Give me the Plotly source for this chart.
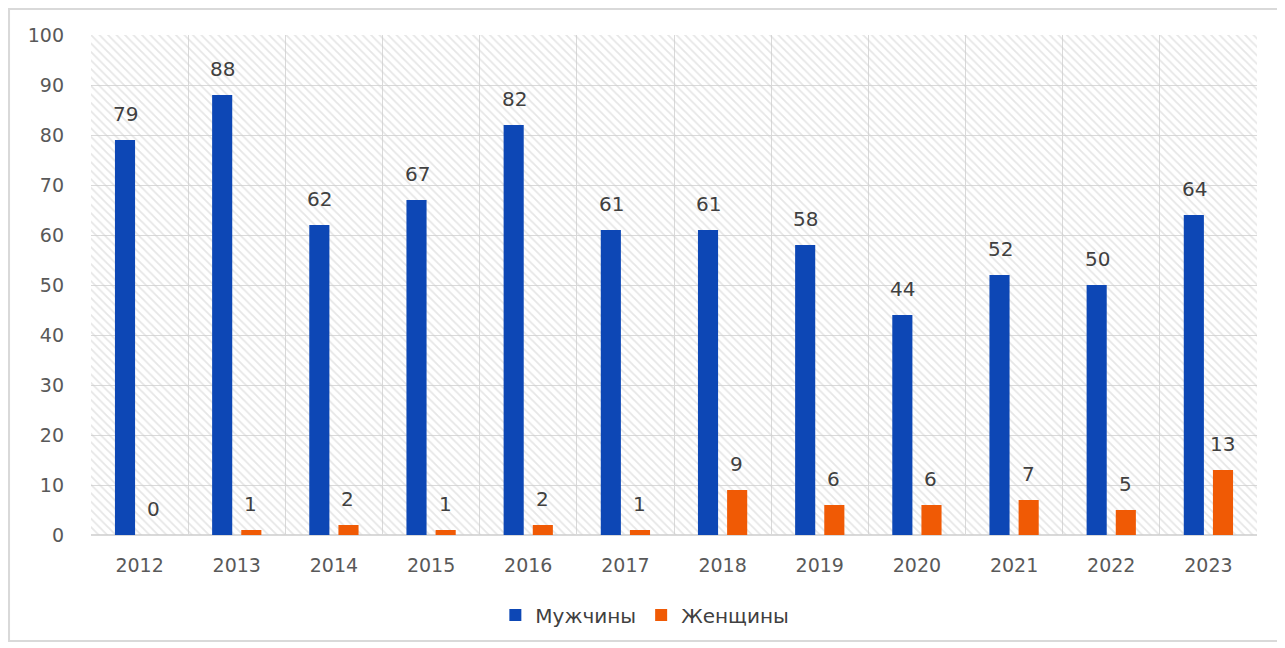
import plotly.graph_objects as go

years = ["2012", "2013", "2014", "2015", "2016", "2017", "2018", "2019", "2020", "2021", "2022", "2023"]
men = [79, 88, 62, 67, 82, 61, 61, 58, 44, 52, 50, 64]
women = [0, 1, 2, 1, 2, 1, 9, 6, 6, 7, 5, 13]
series_names = ["Мужчины", "Женщины"]
colors = ["#0d47b5", "#f05a05"]
y_ticks = list(range(0, 101, 10))

FONT = "DejaVu Sans"
TXT = "#404040"

fig = go.Figure()

# hatched plot-area background (decoration on a hidden unit axis)
fig.add_trace(go.Scatter(
    x=[0, 1, 1, 0, 0], y=[0, 0, y_ticks[-1], y_ticks[-1], 0], xaxis="x", yaxis="y",
    mode="none", fill="toself", fillcolor="rgba(0,0,0,0)",
    fillpattern=dict(shape="\\", fgcolor="#cdcdcd", bgcolor="rgba(0,0,0,0)", size=6, solidity=0.3),
    showlegend=False, hoverinfo="skip"))

for name, vals, col in zip(series_names, [men, women], colors):
    fig.add_trace(go.Bar(x=years, y=vals, name=name, xaxis="x2", yaxis="y",
                         marker=dict(color=col, line=dict(width=0))))

annotations = []
for vals, shift in [(men, -14), (women, 14)]:
    for i, v in enumerate(vals):
        annotations.append(dict(x=i, y=v, xref="x2", yref="y", text=str(v), showarrow=False,
                                xshift=shift, yshift=26, font=dict(family=FONT, size=20, color=TXT)))

fig.update_layout(
    width=1285, height=648,
    margin=dict(l=83, r=36, t=27, b=121),
    paper_bgcolor="white", plot_bgcolor="white",
    barmode="group", bargap=0.40, bargroupgap=0.31,
    font=dict(family=FONT, size=19, color=TXT),
    xaxis=dict(range=[0, 1], visible=False, fixedrange=True),
    xaxis2=dict(type="category", overlaying="x", anchor="y", side="bottom",
                range=[-0.5, len(years) - 0.5], categoryorder="array", categoryarray=years,
                tickson="boundaries", showgrid=True, gridcolor="#d9d9d9", gridwidth=1,
                ticks="", ticklabelstandoff=17, tickfont=dict(size=19, color="#595959"),
                showline=False, zeroline=False),
    yaxis=dict(range=[0, 100], tickvals=y_ticks, showgrid=True, gridcolor="#d9d9d9", gridwidth=1,
               zeroline=True, zerolinecolor="#d9d9d9", ticks="", ticklabelstandoff=26,
               tickfont=dict(size=19, color="#595959")),
    legend=dict(orientation="h", x=0.475, xanchor="center", y=-0.16, yanchor="middle",
                font=dict(size=20, color=TXT), traceorder="normal"),
    annotations=annotations,
    shapes=[dict(type="rect", xref="paper", yref="paper", x0=-0.0703, x1=1.0189, y0=-0.212, y1=1.052,
                 line=dict(color="#d9d9d9", width=2), fillcolor="rgba(0,0,0,0)", layer="below")],
)

fig.write_html("out.html")
